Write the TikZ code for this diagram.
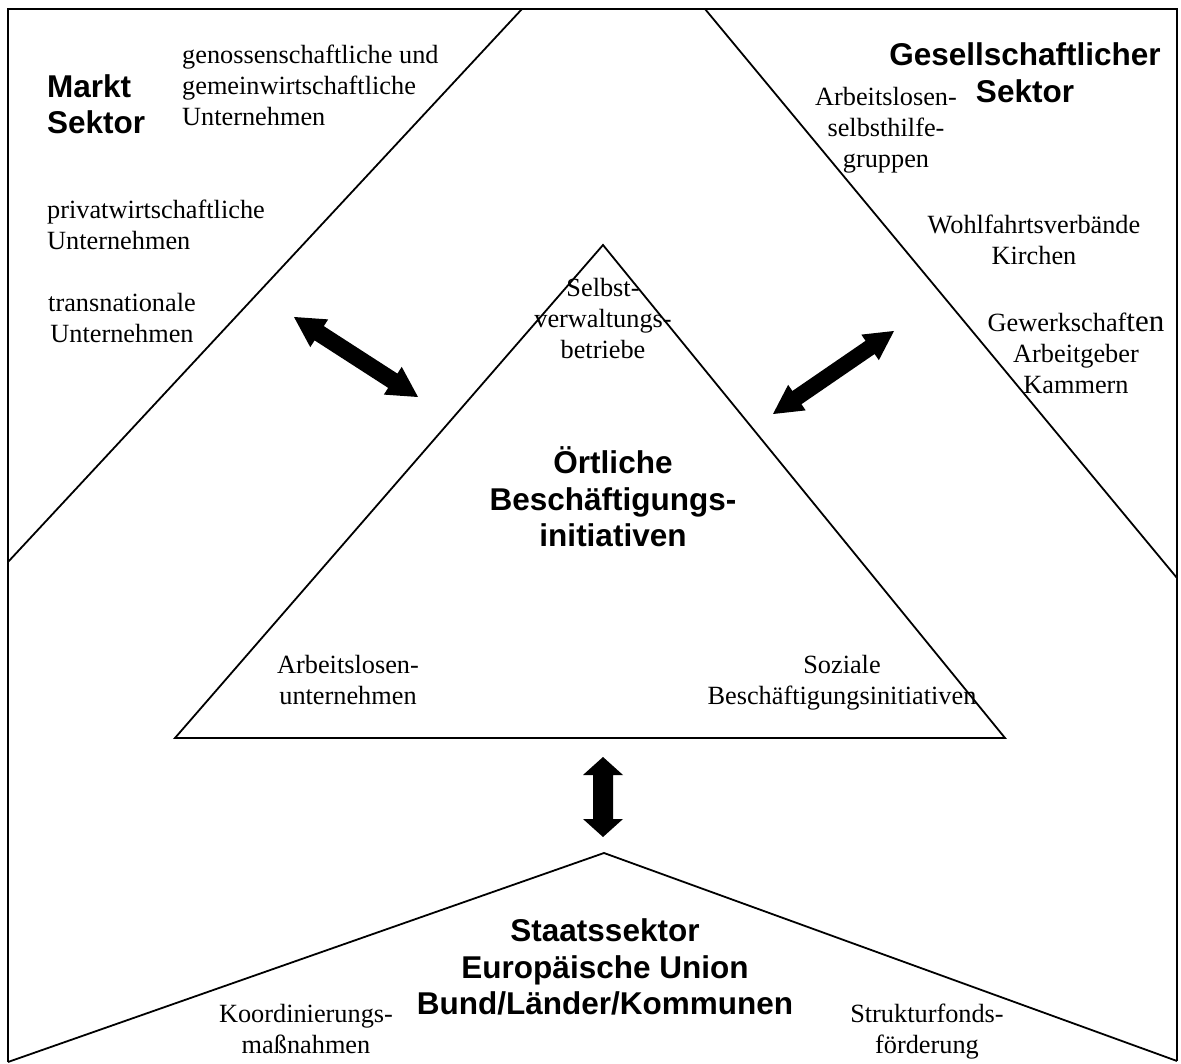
\documentclass[tikz,border=0pt]{standalone}
\usepackage{fontspec}
\setmainfont{Liberation Serif}
\setsansfont{Liberation Sans}
\usetikzlibrary{calc}
\tikzset{
  txt/.style={inner sep=0pt, font=\fontsize{26.3}{31}\selectfont, align=center},
  hd/.style={inner sep=0pt, font=\fontsize{31.5}{36.5}\selectfont\sffamily\bfseries, align=center},
  shape line/.style={line width=1.8pt, line join=miter},
}
\newcommand{\dblarrow}[5]{%
  \path ($(#1)!#3!(#2)$) coordinate (#1h) ($(#2)!#3!(#1)$) coordinate (#2h);
  \fill (#1) -- ($(#1h)!#4!90:(#2)$) -- ($(#1h)!#5!90:(#2)$)
    -- ($(#2h)!#5!-90:(#1)$) -- ($(#2h)!#4!-90:(#1)$) -- (#2)
    -- ($(#2h)!#4!90:(#1)$) -- ($(#2h)!#5!90:(#1)$)
    -- ($(#1h)!#5!-90:(#2)$) -- ($(#1h)!#4!-90:(#2)$) -- cycle;}
\begin{document}
\begin{tikzpicture}[x=1pt,y=-1pt]
\useasboundingbox (0,0) rectangle (1181,1064);
% frame and shapes
\coordinate (TL) at (8,9);
\coordinate (TR) at (1177,9);
\coordinate (BL) at (8,1062);
\coordinate (BR) at (1177,1061);
\coordinate (MT) at (522,9);
\coordinate (ML) at (8,562);
\coordinate (GT) at (705,9);
\coordinate (GR) at (1177,578);
\coordinate (IA) at (603,245);
\coordinate (IL) at (175,738);
\coordinate (IR) at (1005,738);
\coordinate (SA) at (604,853);
\draw[shape line] (BL) -- (TL) -- (TR) -- (BR);
\draw[shape line] (ML) -- (MT);
\draw[shape line] (GT) -- (GR);
\draw[shape line] (IA) -- (IL) -- (IR) -- cycle;
\draw[shape line] (BL) -- (SA) -- (BR);
% arrows
\coordinate (a1) at (294,317);
\coordinate (a2) at (418,397);
\coordinate (r1) at (773,414);
\coordinate (r2) at (894,331);
\coordinate (v1) at (603,757);
\coordinate (v2) at (603,837);
\dblarrow{a1}{a2}{30pt}{16.5pt}{8.5pt}
\dblarrow{r1}{r2}{29pt}{15.5pt}{8pt}
\dblarrow{v1}{v2}{18pt}{20pt}{10pt}
% texts
\node[hd, anchor=west, align=left] (markt) at (47,104) {Markt\\Sektor};
\node[txt, anchor=west, align=left] (genoss) at (182,85) {genossenschaftliche und\\gemeinwirtschaftliche\\Unternehmen};
\node[txt, anchor=west, align=left] (privat) at (47,225) {privatwirtschaftliche\\Unternehmen};
\node[txt] (trans) at (122,318) {transnationale\\Unternehmen};
\node[hd] (gesell) at (1025,72.5) {Gesellschaftlicher\\Sektor};
\node[txt] (arbsh) at (886,130) {Arbeitslosen-\\selbsthilfe-\\gruppen};
\node[txt] (wohl) at (1034,240) {Wohlfahrtsverbände\\Kirchen};
\node[txt] (gewerk) at (1076,353) {Gewerkschaf{\fontsize{31}{31}\selectfont ten}\\Arbeitgeber\\Kammern};
\node[txt] (selbst) at (603,319) {Selbst-\\verwaltungs-\\betriebe};
\node[hd] (oert) at (613,497) {Örtliche\\Beschäftigungs-\\initiativen};
\node[txt] (arbunt) at (348,680) {Arbeitslosen-\\unternehmen};
\node[txt] (sozial) at (842,683) {Soziale\\Beschäftigungsinitiativen};
\node[hd] (staat) at (605,967) {Staatssektor\\Europäische Union\\Bund/Länder/Kommunen};
\node[txt] (koord) at (306,1029) {Koordinierungs-\\maßnahmen};
\node[txt] (struk) at (927,1032) {Strukturfonds-\\förderung};
\end{tikzpicture}
\end{document}
